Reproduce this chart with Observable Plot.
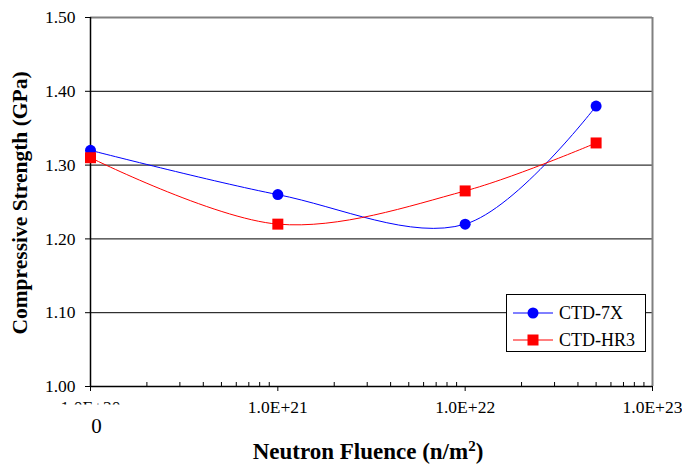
<!DOCTYPE html>
<html>
<head>
<meta charset="utf-8">
<script src="https://cdn.jsdelivr.net/npm/d3@7"></script>
<script src="https://cdn.jsdelivr.net/npm/@observablehq/plot@0.6"></script>
<style>
  body { margin: 0; background: #fff; }
  #wrap { position: relative; width: 682px; height: 464px; font-family: "Liberation Serif", "Times New Roman", serif; }
  #ytitle { position: absolute; left: 20px; top: 203px; transform: translate(-50%, -50%) rotate(-90deg); white-space: nowrap; font-weight: bold; font-size: 21.5px; }
  #xtitle { position: absolute; left: 368px; top: 452px; transform: translate(-50%, -50%); white-space: nowrap; font-weight: bold; font-size: 23px; }
  #xtitle sup { font-size: 15px; vertical-align: 8px; line-height: 0; }
  #legend { position: absolute; left: 506px; top: 294px; width: 138px; height: 56px; border: 1px solid #000; background: #fff; font-size: 18px; }
  .row { position: absolute; left: 6px; height: 20px; display: flex; align-items: center; }
  .row span { margin-left: 6px; }
</style>
</head>
<body>
<div id="wrap">
  <div id="chart"></div>
  <div id="ytitle">Compressive Strength (GPa)</div>
  <div id="xtitle">Neutron Fluence (n/m<sup>2</sup>)</div>
  <div id="legend"></div>
</div>
<script>
// Data
const fluence = [1e20, 1e21, 1e22, 5e22];           // first point represents 0
const ctd7x   = [1.32, 1.26, 1.22, 1.38];
const ctdHr3  = [1.31, 1.22, 1.265, 1.33];
const seriesNames = ["CTD-7X", "CTD-HR3"];
const seriesColors = ["#0000ff", "#ff0000"];
const yTicks = [1.0, 1.1, 1.2, 1.3, 1.4, 1.5];
const gridTicks = [1.1, 1.2, 1.3, 1.4];
const xMajor = [1e20, 1e21, 1e22, 1e23];
const xMajorLabels = ["1.0E+20", "1.0E+21", "1.0E+22", "1.0E+23"];
const zeroLabel = ["0"];

const xMinor = [];
for (const d of [1e20, 1e21, 1e22]) for (let k = 2; k <= 9; k++) xMinor.push(d * k);

const blue = fluence.map((x, i) => ({x, y: ctd7x[i]}));
const red = fluence.map((x, i) => ({x, y: ctdHr3[i]}));

const chart = Plot.plot({
  width: 682,
  height: 464,
  marginLeft: 90,
  marginRight: 30,
  marginTop: 17,
  marginBottom: 78,
  style: {fontFamily: "'Liberation Serif', 'Times New Roman', serif", fontSize: "17.5px", color: "#000", background: "transparent"},
  x: {type: "log", domain: [1e20, 1e23]},
  y: {domain: [1.0, 1.5]},
  marks: [
    Plot.ruleY(gridTicks, {stroke: "#000", strokeWidth: 1}),
    Plot.ruleY([1.5], {stroke: "#808080", strokeWidth: 2}),
    Plot.ruleX([1e23], {stroke: "#808080", strokeWidth: 2}),
    Plot.ruleX(xMinor, {y1: 1.0, y2: 1.0, insetBottom: 4, stroke: "#000"}),
    Plot.axisY({ticks: yTicks, tickFormat: d => d.toFixed(2), tickSize: 5, tickPadding: 10, label: null, fontSize: 17.5}),
    Plot.axisX({ticks: xMajor, tickFormat: d => xMajorLabels[xMajor.indexOf(d)], tickSize: 5, tickPadding: 9, label: null, fontSize: 17.5}),
    Plot.ruleX([1e20], {stroke: "#000", strokeWidth: 1.5}),
    Plot.ruleY([1.0], {stroke: "#000", strokeWidth: 1.5}),
    Plot.line(blue, {x: "x", y: "y", stroke: seriesColors[0], strokeWidth: 1, curve: "catmull-rom"}),
    Plot.line(red, {x: "x", y: "y", stroke: seriesColors[1], strokeWidth: 1, curve: "catmull-rom"}),
    Plot.dot(blue, {x: "x", y: "y", r: 5.5, fill: seriesColors[0], stroke: "none"}),
    Plot.dot(red, {x: "x", y: "y", r: 6.2, symbol: "square", fill: seriesColors[1], stroke: "none"}),
    Plot.text(zeroLabel, {x: () => 1e20, y: () => 1.0, text: d => d, dy: 40, dx: 6, fontSize: 21})
  ]
});
document.getElementById("chart").appendChild(chart);

// partially hidden first tick label, as in the reference
chart.querySelectorAll("text").forEach(t => {
  if (t.textContent === xMajorLabels[0]) t.style.clipPath = "inset(0 0 62% 0)";
});

// legend
const legend = document.getElementById("legend");
seriesNames.forEach((name, i) => {
  const row = document.createElement("div");
  row.className = "row";
  row.style.top = (i === 0 ? 8 : 35) + "px";
  const svg = d3.create("svg").attr("width", 40).attr("height", 20);
  svg.append("line").attr("x1", 0).attr("x2", 40).attr("y1", 10).attr("y2", 10).attr("stroke", seriesColors[i]);
  if (i === 0) svg.append("circle").attr("cx", 20).attr("cy", 10).attr("r", 5.5).attr("fill", seriesColors[i]);
  else svg.append("rect").attr("x", 14.5).attr("y", 4.5).attr("width", 11).attr("height", 11).attr("fill", seriesColors[i]);
  row.appendChild(svg.node());
  const s = document.createElement("span");
  s.textContent = name;
  row.appendChild(s);
  legend.appendChild(row);
});
</script>
</body>
</html>
